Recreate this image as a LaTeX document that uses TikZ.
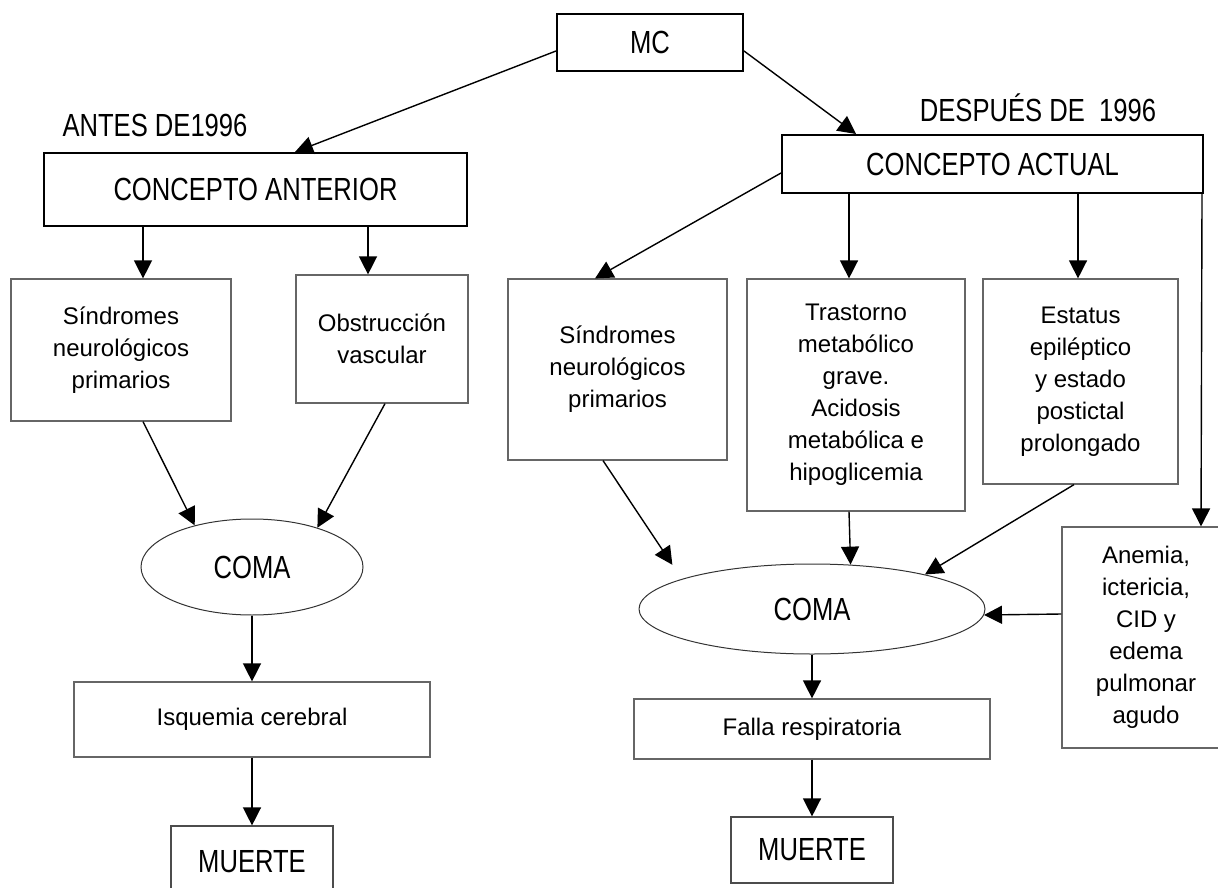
\documentclass[tikz,border=0pt]{standalone}
\usepackage{fontspec}
\setmainfont{Liberation Sans}
\newfontfamily\narrowfont{Liberation Sans}[FakeStretch=0.8]
\usepackage{xcolor}
\usepackage{tikz}
\usetikzlibrary{shapes.geometric, arrows.meta, positioning, calc}

\begin{document}
\begin{tikzpicture}[x=0.5pt, y=-0.5pt,
  head/.style={rectangle, draw, line width=1pt, inner sep=0pt, font=\narrowfont\fontsize{16}{19}\selectfont},
  tag/.style={inner sep=0pt, font=\narrowfont\fontsize{16}{19}\selectfont},
  box/.style={rectangle, draw=black!60, line width=0.6pt, inner sep=0pt, align=center, font=\fontsize{12}{16}\selectfont},
  endbox/.style={box, draw=black!70, font=\narrowfont\fontsize{16}{19}\selectfont},
  oval/.style={ellipse, draw=black!80, line width=0.5pt, inner sep=0pt, font=\narrowfont\fontsize{16}{19}\selectfont},
  arrow/.style={-{Triangle[length=9pt, width=9pt]}, line width=0.7pt}
]
  \useasboundingbox (0,0) rectangle (1218,887);

  \node[head, minimum width=93pt, minimum height=28.5pt] (mc) at (650,42.5) {MC};
  \node[tag] (antes) at (155,125) {ANTES DE1996};
  \node[tag] (despues) at (1038,108) {DESPUÉS DE~~1996};
  \node[head, minimum width=211.5pt, minimum height=36.5pt] (anterior) at (255.5,189.5) {CONCEPTO ANTERIOR};
  \node[head, minimum width=210.5pt, minimum height=29pt] (actual) at (992.5,164) {CONCEPTO ACTUAL};

  \node[box, minimum width=110pt, minimum height=71pt] (sind1) at (121,350) {Síndromes\\neurológicos\\primarios};
  \node[box, minimum width=86pt, minimum height=64pt] (obst) at (382,339) {Obstrucción\\vascular};
  \node[box, minimum width=109.5pt, minimum height=90.5pt] (sind2) at (617.5,369.5) {Síndromes\\neurológicos\\primarios};
  \node[box, minimum width=109pt, minimum height=116pt] (tras) at (856,395) {Trastorno\\metabólico\\grave.\\Acidosis\\metabólica e\\hipoglicemia};
  \node[box, minimum width=97.5pt, minimum height=102.5pt] (estat) at (1080.5,381.5) {Estatus\\epiléptico\\y estado\\postictal\\prolongado};
  \node[box, minimum width=84pt, minimum height=110.5pt] (anem) at (1146,637.5) {Anemia,\\ictericia,\\CID y\\edema\\pulmonar\\agudo};

  \node[oval, minimum width=111pt, minimum height=48pt] (coma1) at (252,567) {COMA};
  \node[box, minimum width=178pt, minimum height=37.5pt] (isq) at (252,719.5) {Isquemia cerebral};
  \node[endbox, minimum width=81pt, minimum height=36pt] (muerte1) at (252,862) {MUERTE};

  \node[oval, minimum width=173pt, minimum height=45pt] (coma2) at (812,609) {COMA};
  \node[box, minimum width=178pt, minimum height=30pt] (falla) at (812,729) {Falla respiratoria};
  \node[endbox, minimum width=81pt, minimum height=33pt] (muerte2) at (812,850) {MUERTE};

  \draw[arrow] ([yshift=-4.25pt]mc.west) -- ([xshift=19.75pt]anterior.north);
  \draw[arrow] ([yshift=-4.25pt]mc.east) -- ([xshift=-68.25pt]actual.north);

  \draw[arrow] ([xshift=-56.25pt]anterior.south) -- ([xshift=11pt]sind1.north);
  \draw[arrow] ([xshift=56.25pt]anterior.south) -- ([xshift=-7pt]obst.north);
  \draw[arrow] ([xshift=11pt]sind1.south) -- (coma1.144);
  \draw[arrow] ([xshift=1.5pt]obst.south) -- (coma1.31);
  \draw[arrow] (coma1.south) -- (isq.north);
  \draw[arrow] (isq.south) -- (muerte1.north);

  \draw[arrow] ([yshift=-4.5pt]actual.west) -- ([xshift=-11.25pt]sind2.north);
  \draw[arrow] ([xshift=-71.75pt]actual.south) -- ([xshift=-3.5pt]tras.north);
  \draw[arrow] ([xshift=42.75pt]actual.south) -- ([xshift=-1.25pt]estat.north);
  \draw[arrow] ([xshift=-1pt]actual.south east) -- ([xshift=27.5pt]anem.north);
  \draw[arrow, shorten >=8.5pt] ([xshift=-7.25pt]sind2.south) -- (coma2.167);
  \draw[arrow] ([xshift=-3.5pt]tras.south) -- (coma2.49);
  \draw[arrow] ([xshift=-3.25pt]estat.south) -- (coma2.17);
  \draw[arrow] ([yshift=11.75pt]anem.west) -- (coma2.358);
  \draw[arrow] (coma2.south) -- (falla.north);
  \draw[arrow] (falla.south) -- (muerte2.north);
\end{tikzpicture}
\end{document}
